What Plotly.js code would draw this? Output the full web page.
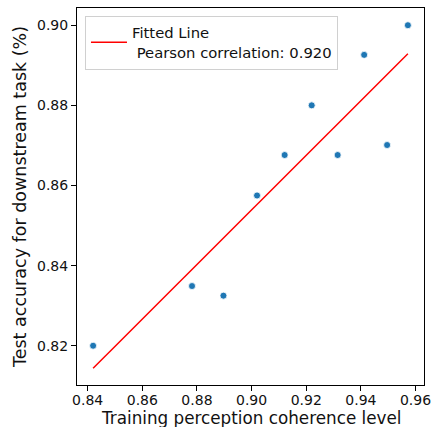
<!DOCTYPE html>
<html>
<head>
<meta charset="utf-8">
<script src="https://cdn.plot.ly/plotly-3.0.1.min.js"></script>
<style>html,body{margin:0;padding:0;background:#fff;}#chart{width:433px;height:427px;}</style>
</head>
<body>
<div id="chart"></div>
<script>
const coherence = [0.8420, 0.8782, 0.8897, 0.9020, 0.9121, 0.9220, 0.9315, 0.9412, 0.9496, 0.9572];
const accuracy  = [0.8200, 0.8349, 0.8325, 0.8575, 0.8676, 0.8800, 0.8676, 0.8926, 0.8701, 0.9000];
const fitX = [0.8420, 0.9572];
const fitY = [0.8144, 0.8929];
const fitName = "Fitted Line<br>&nbsp;Pearson correlation: 0.920";
const xTicks = [0.84, 0.86, 0.88, 0.90, 0.92, 0.94, 0.96];
const yTicks = [0.82, 0.84, 0.86, 0.88, 0.90];
const xTitle = "Training perception coherence level";
const yTitle = "Test accuracy for downstream task (%)";

const font = "DejaVu Sans, sans-serif";
const txt = "#111";
const traces = [
  {x: fitX, y: fitY, type: "scatter", mode: "lines", name: fitName,
   line: {color: "red", width: 1.5}, showlegend: true},
  {x: coherence, y: accuracy, type: "scatter", mode: "markers", showlegend: false,
   marker: {color: "#1f77b4", size: 7, line: {color: "white", width: 0.8}}}
];
const axisCommon = {showline: true, mirror: true, linecolor: "#000", linewidth: 1,
  ticks: "outside", ticklen: 5, tickcolor: "#000", showgrid: false, zeroline: false,
  tickfont: {family: font, size: 14, color: txt}};
const layout = {
  width: 433, height: 427,
  margin: {l: 77, r: 9, t: 8, b: 42},
  paper_bgcolor: "#fff", plot_bgcolor: "#fff",
  font: {family: font, color: txt},
  xaxis: Object.assign({}, axisCommon, {range: [0.8361, 0.9631], tickvals: xTicks,
    ticktext: xTicks.map(v => v.toFixed(2)), ticklabelstandoff: -3}),
  yaxis: Object.assign({}, axisCommon, {range: [0.8102, 0.9043], tickvals: yTicks,
    ticktext: yTicks.map(v => v.toFixed(2)),
    title: {text: yTitle, font: {family: font, size: 17.5, color: txt}, standoff: 5}}),
  annotations: [{text: xTitle, xref: "paper", yref: "paper", x: 0.5, y: 0,
    xanchor: "center", yanchor: "top", yshift: -22, borderpad: 0, showarrow: false,
    font: {family: font, size: 16.8, color: txt}}],
  legend: {x: 0.023, y: 0.98, xanchor: "left", yanchor: "top", bgcolor: "#fff",
    bordercolor: "#d0d0d0", borderwidth: 1, itemwidth: 36,
    font: {family: font, size: 14.8, color: txt}}
};
Plotly.newPlot("chart", traces, layout, {staticPlot: true, displayModeBar: false});
</script>
</body>
</html>
